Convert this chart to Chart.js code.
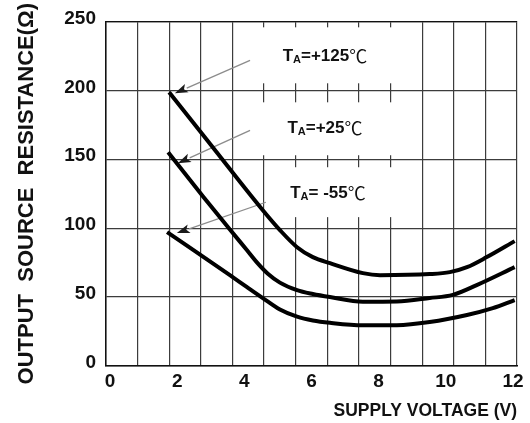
<!DOCTYPE html>
<html><head><meta charset="utf-8">
<script src="https://cdn.jsdelivr.net/npm/chart.js@4"></script>
<style>html,body{margin:0;padding:0;background:#fff}</style>
</head><body>
<canvas id="c" width="530" height="423"></canvas>
<script>
// ---- data ----
const seriesNames = ['+125', '+25', ' -55'];
const volts125 = [1.76, 3.0, 4.55, 5.06, 5.57, 6.04, 6.55, 7.53, 8.04, 9.52, 10.12, 10.63, 11.22, 12.05];
const ohms125  = [198.6, 160.5, 113, 98.6, 86.2, 79, 74.6, 67.4, 65.9, 66.7, 68.1, 71.7, 79, 90.6];
const volts25  = [1.73, 2.77, 3.57, 4.08, 4.4, 4.7, 5.06, 5.57, 6.04, 6.55, 7.53, 8.54, 9.52, 10.21, 10.92, 12.05];
const ohms25   = [155, 123, 99, 84, 74.5, 67, 60.5, 55, 52.2, 50, 46.6, 46.8, 49.3, 51.6, 58.7, 71.7];
const voltsM55 = [1.70, 3.57, 4.08, 4.55, 5.06, 5.57, 6.04, 6.55, 7.53, 8.54, 9.52, 10.63, 11.40, 12.05];
const ohmsM55  = [97.1, 65.9, 57.2, 49.3, 41, 35.8, 33, 31.3, 29.5, 29.6, 31.9, 37, 42, 47.8];
const xTickValues = [0, 2, 4, 6, 8, 10, 12];
const yTickValues = [0, 50, 100, 150, 200, 250];
const xTitle = 'SUPPLY VOLTAGE (V)';
const yTitle = 'OUTPUT  SOURCE  RESISTANCE(Ω)';

// ---- layout of the callouts (in axis units) ----
const callouts = [
  {box: [4.375, 8.51, 205.1, 245.7], text: [6.40, 224.6], tail: [4.17, 221.7], tip: [1.93, 197.8]},
  {box: [4.375, 8.51, 152.9, 191.3], text: [6.40, 172.5], tail: [4.17, 171.0], tip: [2.02, 147.1]},
  {box: [4.61, 8.51, 108.0, 144.2],  text: [6.49, 125.4], tail: [4.64, 118.8], tip: [1.99, 96.4]}
];

const FONT = "'Liberation Sans', Arial, sans-serif";

function pts(xs, ys) { return xs.map((v, i) => ({x: v, y: ys[i]})); }

const calloutPlugin = {
  id: 'callouts',
  beforeDatasetsDraw(chart) {
    const {ctx, scales} = chart;
    const x = scales.x, y = scales.y;
    callouts.forEach((c, i) => {
      const x0 = x.getPixelForValue(c.box[0]), x1 = x.getPixelForValue(c.box[1]);
      const yt = y.getPixelForValue(c.box[3]), yb = y.getPixelForValue(c.box[2]);
      ctx.save();
      ctx.fillStyle = '#ffffff';
      ctx.fillRect(x0, yt, x1 - x0, yb - yt);
      // arrow
      const tx = x.getPixelForValue(c.tail[0]), ty = y.getPixelForValue(c.tail[1]);
      const hx = x.getPixelForValue(c.tip[0]), hy = y.getPixelForValue(c.tip[1]);
      const ang = Math.atan2(hy - ty, hx - tx);
      const L = 13, W = 4.5;
      const bx = hx - L * Math.cos(ang), by = hy - L * Math.sin(ang);
      ctx.strokeStyle = '#8c8c8c';
      ctx.lineWidth = 1.3;
      ctx.beginPath(); ctx.moveTo(tx, ty); ctx.lineTo(bx, by); ctx.stroke();
      ctx.fillStyle = '#1a1a1a';
      ctx.beginPath();
      ctx.moveTo(hx, hy);
      ctx.lineTo(bx + W * Math.sin(ang), by - W * Math.cos(ang));
      ctx.lineTo(hx - (L - 3) * Math.cos(ang), hy - (L - 3) * Math.sin(ang));
      ctx.lineTo(bx - W * Math.sin(ang), by + W * Math.cos(ang));
      ctx.closePath(); ctx.fill();
      // text  T_A=<name>℃
      const cx = x.getPixelForValue(c.text[0]), cy = y.getPixelForValue(c.text[1]);
      const fMain = 'bold 17px ' + FONT, fSub = 'bold 11px ' + FONT, fDeg = '18px "Noto Sans CJK SC", sans-serif';
      const parts = [['T', fMain, 0], ['A', fSub, 4], ['=' + seriesNames[i], fMain, 0], ['\u2103', fDeg, 0]];
      let total = 0;
      parts.forEach(p => { ctx.font = p[1]; p.w = ctx.measureText(p[0]).width; total += p.w; });
      let px = cx - total / 2;
      ctx.fillStyle = '#111';
      ctx.textBaseline = 'middle';
      ctx.textAlign = 'left';
      parts.forEach(p => { ctx.font = p[1]; ctx.fillText(p[0], px, cy + p[2]); px += p.w; });
      ctx.restore();
    });
  }
};

const gridColor = '#3c3c3c';
new Chart(document.getElementById('c'), {
  type: 'line',
  data: {
    datasets: [
      {data: pts(volts125, ohms125)},
      {data: pts(volts25, ohms25)},
      {data: pts(voltsM55, ohmsM55)}
    ].map(d => Object.assign(d, {
      borderColor: '#000', borderWidth: 4, pointRadius: 0,
      cubicInterpolationMode: 'monotone', fill: false, xAxisID: 'x', yAxisID: 'y'
    }))
  },
  options: {
    responsive: false, animation: false, events: [],
    layout: {padding: {left: 0, right: 13, top: 21, bottom: 0}},
    plugins: {legend: {display: false}, tooltip: {enabled: false}},
    scales: {
      x: {
        type: 'linear', position: 'bottom', min: -0.12, max: 12.12,
        afterBuildTicks: s => { s.ticks = xTickValues.map(v => ({value: v})); },
        afterFit: s => { s.height = 57; },
        grid: {display: false},
        border: {display: true, color: '#111', width: 1.5},
        ticks: {color: '#111', padding: -4, maxRotation: 0, font: {family: FONT, size: 19, weight: 'bold'}},
        title: {display: true, text: xTitle, align: 'end', color: '#111',
                padding: {top: 0, bottom: 1}, font: {family: FONT, size: 17.5, weight: 'bold'}}
      },
      xg: {
        type: 'linear', position: 'top', min: 0, max: 13,
        ticks: {display: false, stepSize: 1},
        afterFit: s => { s.height = 0; },
        grid: {display: true, color: gridColor, lineWidth: 1.2, drawTicks: false},
        border: {display: true, color: '#111', width: 1.2}
      },
      y: {
        type: 'linear', position: 'left', min: 0, max: 250,
        afterBuildTicks: s => { s.ticks = yTickValues.map(v => ({value: v})); },
        afterFit: s => { s.width = 106; },
        grid: {display: true, color: gridColor, lineWidth: 1.2, drawTicks: false},
        border: {display: true, color: '#111', width: 1.5},
        ticks: {color: '#111', padding: 10, labelOffset: -3, font: {family: FONT, size: 19, weight: 'bold'}},
        title: {display: true, text: yTitle, color: '#111',
                padding: {top: 14, bottom: 0}, font: {family: FONT, size: 22, weight: 'bold'}}
      }
    }
  },
  plugins: [calloutPlugin]
});
</script>
</body></html>
